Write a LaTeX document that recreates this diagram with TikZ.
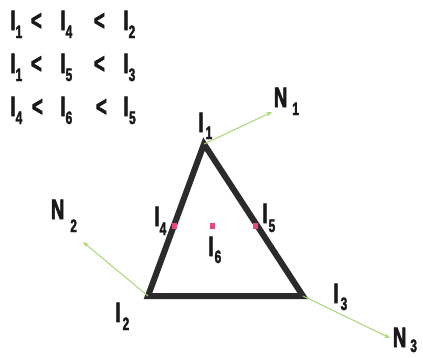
\documentclass[tikz,border=0pt]{standalone}
\usepackage{fontspec}
\usetikzlibrary{arrows.meta}
\newfontfamily\lf{Liberation Sans Bold}[FakeStretch=0.66, FakeBold=2.2]
\newcommand\mainsz{\fontsize{28}{28}\selectfont}
\newcommand\subsz{\fontsize{18}{18}\selectfont}
% label: letter, index, gap, drop
\newcommand\Lbl[4]{#1\kern#3\raisebox{-#4}{\subsz #2}}
\definecolor{tri}{HTML}{2B2B2B}
\definecolor{arrg}{HTML}{A8D672}
\definecolor{mark}{HTML}{E8467C}
\tikzset{
  txt/.style={inner sep=0pt, outer sep=0pt, anchor=base west, font=\lf\mainsz, text=black!90},
  tri/.style={draw=tri, line width=6pt, line join=miter},
  arr/.style={draw=arrg, line width=1pt, -{Stealth[length=6pt,width=4.5pt]}},
  mk/.style={fill=mark, minimum width=5pt, minimum height=6pt, inner sep=0pt, draw=none}
}
\begin{document}
\begin{tikzpicture}[x=1pt,y=-1pt]
\useasboundingbox (0,0) rectangle (423,357);
% inequalities
\node[txt] (r1a) at (10.5,30) {\Lbl{I}{1}{0pt}{8pt}};
\node[txt] (r1b) at (31,30) {<};
\node[txt] (r1c) at (60.5,30) {\Lbl{I}{4}{0pt}{8pt}};
\node[txt] (r1d) at (94,30) {<};
\node[txt] (r1e) at (123.5,30) {\Lbl{I}{2}{0pt}{8pt}};
\node[txt] (r2a) at (10.5,73) {\Lbl{I}{1}{0pt}{8pt}};
\node[txt] (r2b) at (31,73) {<};
\node[txt] (r2c) at (60.5,73) {\Lbl{I}{5}{0pt}{8pt}};
\node[txt] (r2d) at (94,73) {<};
\node[txt] (r2e) at (123.5,73) {\Lbl{I}{3}{0pt}{8pt}};
\node[txt] (r3a) at (10.5,116) {\Lbl{I}{4}{0pt}{8pt}};
\node[txt] (r3b) at (32,116) {<};
\node[txt] (r3c) at (60.5,116) {\Lbl{I}{6}{0pt}{8pt}};
\node[txt] (r3d) at (96,116) {<};
\node[txt] (r3e) at (123.5,116) {\Lbl{I}{5}{0.5pt}{8pt}};
% triangle
\coordinate (v1) at (204,144);
\coordinate (v2) at (148,296);
\coordinate (v3) at (303,296);
\draw[tri] (v1) -- (v2) -- (v3) -- cycle;
% normals
\coordinate (t1) at (272,112);
\coordinate (t2) at (83,242);
\coordinate (t3) at (390,338);
\draw[arr] (v1) -- (t1);
\draw[arr] (v2) -- (t2);
\draw[arr] (v3) -- (t3);
% markers
\node[mk] (m4) at (174,226) {};
\node[mk] (m6) at (212,226) {};
\node[mk] (m5) at (255,226) {};
% vertex / point labels
\node[txt] (l1) at (198.5,132) {\Lbl{I}{1}{2pt}{7pt}};
\node[txt] (l2) at (115.5,322) {\Lbl{I}{2}{2pt}{8pt}};
\node[txt] (l3) at (333.5,303) {\Lbl{I}{3}{2pt}{7pt}};
\node[txt] (l4) at (154.5,226) {\Lbl{I}{4}{0pt}{9pt}};
\node[txt] (l5) at (262.5,223) {\Lbl{I}{5}{1pt}{9pt}};
\node[txt] (l6) at (208.5,256) {\Lbl{I}{6}{1pt}{7pt}};
% normal labels
\node[txt] (n1) at (274,107) {\Lbl{N}{1}{5pt}{8pt}};
\node[txt] (n2) at (51,219) {\Lbl{N}{2}{6pt}{13pt}};
\node[txt] (n3) at (393,347) {\Lbl{N}{3}{4pt}{5pt}};
\end{tikzpicture}
\end{document}
